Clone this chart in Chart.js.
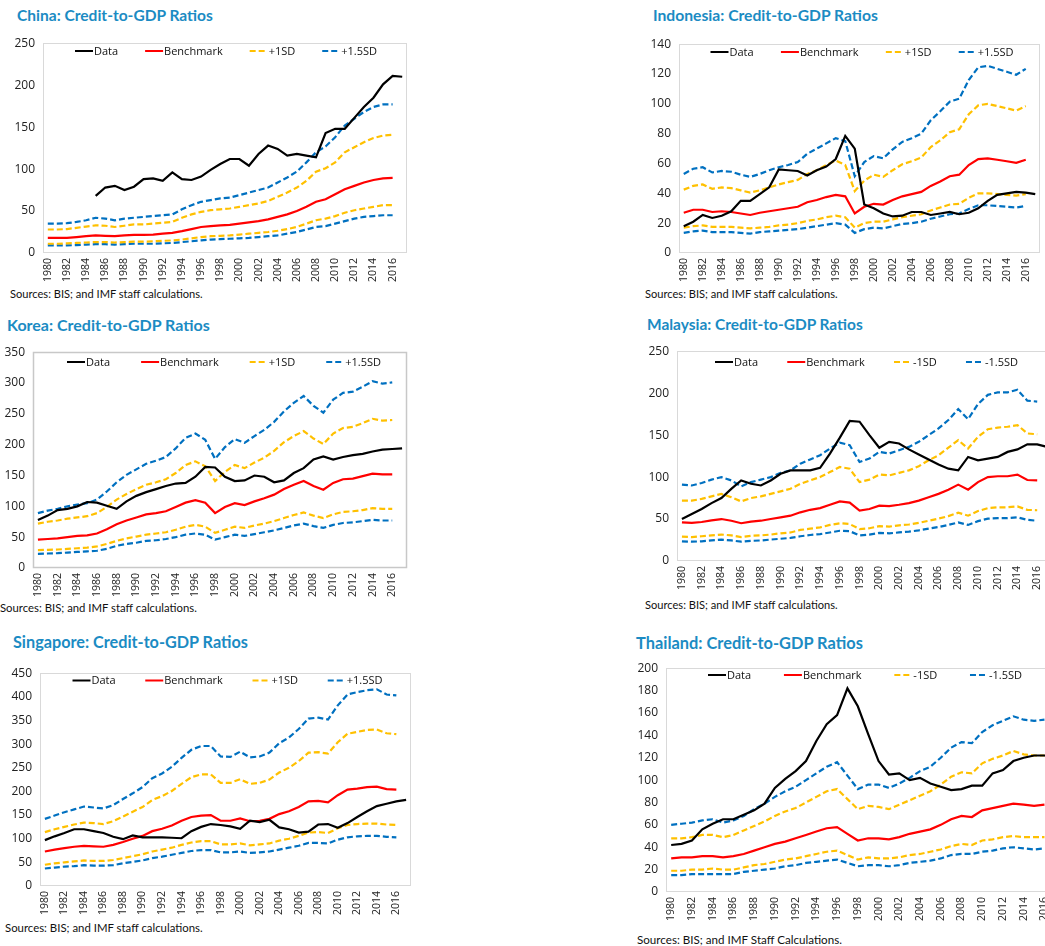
<!DOCTYPE html>
<html><head><meta charset="utf-8">
<script src="https://cdn.jsdelivr.net/npm/chart.js@4.4.0/dist/chart.umd.min.js"></script>
<style>
html,body{margin:0;padding:0;overflow:hidden;background:#fff;width:1045px;height:946px;position:relative;}
.t{position:absolute;font-family:Lato,"Open Sans",sans-serif;font-weight:bold;color:#1b8bc3;font-size:14px;white-space:nowrap;line-height:1.25;}
.s{position:absolute;font-family:Lato,"Open Sans",sans-serif;font-size:11px;color:#111;white-space:nowrap;line-height:1.25;}
canvas{position:absolute;}
</style></head><body>
<script>
const years = ['1980','1981','1982','1983','1984','1985','1986','1987','1988','1989','1990','1991','1992','1993','1994','1995','1996','1997','1998','1999','2000','2001','2002','2003','2004','2005','2006','2007','2008','2009','2010','2011','2012','2013','2014','2015','2016','2017'];

// China
const chinaData  = [null,null,null,null,null,68,78,80,75,79,88,89,86,96,88,87,91,99,106,112,112,104,118,128,124,116,118,116,114,143,148,148,161,174,185,201,211,210];
const chinaBench = [18,18,18,19,20,21,20.5,20,21,21.5,21.5,22,23,24,26,28.5,31,32,33,33.5,35,36.5,38,40,43,46,50,55,61,64,70,76,80,84,87,89,89.5];
const chinaUp1   = [28,28,28.5,30,31.5,33,32.5,31,32.5,34,34,35,36,37,42,46,49,51,52,53,55,57,59,62,67,72,78,86,97,101,108,120,126,132,137,140,141];
const chinaUp15  = [35,35,35.5,37,39,42,41,39,41,42,43,44,45,46,52,57,61,63,65,66,69,72,75,78,84,90,97,108,120,127,138,152,160,168,174,177,177];
const chinaLo1   = [11,11,11.5,12,12.5,13,13,12.5,13,13.5,13.5,14,14.5,15,16,17.5,19,20,20.5,21,22,23,24,25,26.5,28.5,31,35,39,41,44,48,51,53,55,57,57];
const chinaLo15  = [9,9,9,9.5,10,10.5,10.5,10,10.5,11,11,11,11.5,12,13,14,15,16,16.5,17,17.5,18,19,20,21,23,25,28,31,32,35,38,41,43,44,45,45];

// Indonesia
const indoData  = [18,21,25.5,23.5,25,28,35,35,39.5,44,56,55.5,55,52,55.5,58,63,78.5,70,32.5,30,26.5,24.5,25,27.5,27.5,25.5,26.5,27.5,26,27,30,35,39,40,41,40.5,39.5];
const indoBench = [27,29,29,27.5,28,27.5,26.5,25.5,27,28,29,30,31,34,35.5,37.5,39,38,26.5,31,33,32.5,35.5,38,39.5,41,45,48,51.5,52.5,59,63,63.5,62.5,61.5,60.5,62.5];
const indoUp1   = [42.5,45,46,43,44,43.5,42,40.5,42,44,46,47.5,49,53,55.5,59,62,59,41.5,48.5,52.5,51,55.5,59.5,61.5,64,71,75.5,81,83,93,99,100,98.5,97,95.5,98.5];
const indoUp15  = [53,56.5,57.5,54,55,54.5,52.5,51,53,55.5,57.5,59,61,66.5,70,73.5,77,75,51.5,61,65,63.5,69.5,74.5,77,80,89,95,101.5,103.5,116,124.5,125.5,123.5,121.5,119.5,123.5];
const indoLo1   = [17,18,18.5,17.5,17.5,17.5,17,16.5,17,17.5,18.5,19,20,21.5,22.5,24,25,24,17,20,21,21,22.5,24,25,26,28.5,30.5,32.5,33,37,40,40,39.5,39,38.5,39.5];
const indoLo15  = [13.5,14.5,15,14,14,14,13.5,13,14,14.5,15,15.5,16,17,18,19,20,19,13.5,16,17,16.5,18,19.5,20,21,23,24.5,26,26.5,29.5,32,32,31.5,31,30.5,31.5];

// Korea
const koreaData  = [78,85,94,96,100,107,106,101,96,108,117,123,128,133,137,138,148,164,163,148,141,142,150,148,139,142,154,162,176,181,176,180,183,185,189,192,193,194];
const koreaBench = [46,47,48,50,52,53,56,63,71,77,82,87,89,92,99,106,110,106,89,99,105,102,108,113,119,128,135,141,133,127,138,144,145,149,153,152,152];
const koreaUp1   = [72,75,77,80,82,84,89,99,111,120,128,135,139,144,154,167,173,165,141,156,167,162,171,179,190,204,214,222,210,201,218,227,229,235,242,239,240];
const koreaUp15  = [89,93,96,100,103,105,111,124,139,151,160,169,174,180,194,211,218,208,177,196,209,203,214,224,237,254,268,279,263,252,273,284,286,294,303,299,301];
const koreaLo1   = [29,29.5,30,31,32,33,35,39,44,48,51,54,56,58,62,67,70,67,57,62,67,65,69,72,76,81,86,90,85,81,87,91,92,94,97,96,96];
const koreaLo15  = [23,23.5,24,25,26,27,28,31,36,39,41,44,45,47,50,54,56,54,46,50,54,52,55,58,61,65,69,72,68,65,70,73,74,76,78,77,77];

// Malaysia
const malData  = [50,56,62,69,75,86,96,92,90,96,104,108,108,108,111,128,147,167,166,150,135,142,140,133,127,121,115,110,108,124,120,122,124,130,133,139,139,136];
const malBench = [46,45.5,46.5,48.5,50,48,45,47,48,50,52,54,58,61,63,67,71,69.5,60,62,66,65.5,67,69,72,76,80,85,91,85,94,100,101,101,103,96.5,96];
const malUp1   = [72,72,74,77,80,76,71,75,77,80,83,86,92,96,100,106,112,110,94,97,103,102,105,108,113,120,126,135,144,134,148,157,159,160,162,152,151];
const malUp15  = [91,90,93,97,100,96,89,94,97,100,105,108,116,121,126,134,141,138,118,122,130,128,132,136,142,150,158,168,181,169,187,198,201,201,204,191,190];
const malLo1   = [29,28.5,29.5,30.5,31.5,30.5,28.5,30,30.5,31.5,33,34,37,38.5,40,43,45,44,38,39,41.5,41,42.5,43.5,45.5,48,50.5,53.5,57.5,54,59.5,63,64,64,65,61,60.5];
const malLo15  = [23.5,23,23.5,24.5,25.5,24.5,23,24,24.5,25.5,26.5,27.5,29.5,31,32,34,36,35.5,30.5,31.5,33.5,33,34,35,36.5,38.5,40.5,43,46,43,47.5,50.5,51,51,52,49,48];

// Singapore
const sgData  = [97,105,112,120,120,116,112,104,99,107,103,103,103,102,101,116,125,131,129,126,121,138,135,140,124,120,113,115,130,131,123,133,146,158,169,174,179,182];
const sgBench = [73,77,80,83,85,84,83,87,93,100,106,116,121,128,138,146,149,150,138,138,143,137,138,142,152,158,167,179,180,177,192,204,206,209,210,205,204];
const sgUp1   = [114,120,125,130,134,133,131,137,147,157,167,182,190,201,216,230,236,236,218,218,226,216,218,225,240,250,264,282,283,280,304,322,326,330,331,323,321];
const sgUp15  = [142,149,156,162,168,166,164,171,184,196,209,228,238,252,271,288,296,296,274,273,284,272,274,282,302,314,332,354,356,352,382,405,410,414,416,405,403];
const sgLo1   = [45,48,50,52,54,53,53,55,59,63,67,73,77,81,87,92,95,95,88,88,90,86,88,90,96,100,106,113,114,112,122,129,131,132,132,130,129];
const sgLo15  = [37,39,41,42,44,43,43,44,48,51,54,59,62,66,70,74,76,76,71,71,73,70,71,73,77,81,85,91,91,90,98,103,105,106,106,104,103];

// Thailand
const thData  = [42,43,46,56,61,65,65,69,73,79,93,101,108,117,135,150,158,182,166,141,117,105,106,100,102,97,94,91,92,95,95,106,109,117,120,122,122,120];
const thBench = [30,31,31,32,32,31,32,34,37,40,43,45,48,51,54,57,58,52,46,48,48,47,49,52,54,56,60,65,68,67,73,75,77,79,78,77,78];
const thUp1   = [48,48,49,51,51,49,51,55,59,63,68,72,75,80,85,90,92,83,74,77,76,74,78,82,86,90,96,103,107,106,115,119,122,126,123,122,122];
const thUp15  = [60,61,62,64,65,62,64,68,74,79,85,90,94,100,106,112,116,104,92,96,96,93,97,102,108,112,120,129,134,133,143,149,153,157,154,153,154];
const thLo1   = [19,19,20,20,21,20,20,22,24,25,27,29,30,32,34,36,37,33,29,31,30,30,31,33,34,36,38,41,43,42,46,47,49,50,49,49,49];
const thLo15  = [15,15,16,16,16,16,16,18,19,20,21,23,24,26,27,28,29,26,23,24,24,23,24,26,27,28,30,33,34,34,36,37,39,40,39,38,39];

const seriesNamesPlus  = ['Data','Benchmark','+1SD','+1.5SD'];
const seriesNamesMinus = ['Data','Benchmark','-1SD','-1.5SD'];
const srcText  = 'Sources: BIS; and IMF staff calculations.';
const srcTextTh = 'Sources: BIS; and IMF Staff Calculations.';

const panels = [
  {title:'China: Credit-to-GDP Ratios', src:srcText, L:43,R:407,T:38,B:253, max:250, step:50, names:seriesNamesPlus,
   s:[chinaData,chinaBench,chinaUp1,chinaUp15,chinaLo1,chinaLo15], tb:[17,16,196], sb:[10,294,193], leg:[75,377,13], box:['#d9d9d9',1]},
  {title:'Indonesia: Credit-to-GDP Ratios', src:srcText, L:678.5,R:1039.5,T:39,B:253, max:140, step:20, names:seriesNamesPlus,
   s:[indoData,indoBench,indoUp1,indoUp15,indoLo1,indoLo15], tb:[653,16,225], sb:[645,294,193], leg:[710,1013,13], box:['#d9d9d9',1]},
  {title:'Korea: Credit-to-GDP Ratios', src:srcText, L:33,R:407,T:347,B:568, max:350, step:50, names:seriesNamesPlus,
   s:[koreaData,koreaBench,koreaUp1,koreaUp15,koreaLo1,koreaLo15], tb:[7,325,203], sb:[0,608,197], leg:[67,381,15], box:['#c8c8c8',1.5]},
  {title:'Malaysia: Credit-to-GDP Ratios', src:srcText, L:677,R:1052,T:346,B:561, max:250, step:50, names:seriesNamesMinus,
   s:[malData,malBench,malUp1,malUp15,malLo1,malLo15], tb:[647,325,216], sb:[645,605,193], leg:[715,1018,16], box:['#d9d9d9',1]},
  {title:'Singapore: Credit-to-GDP Ratios', src:srcText, L:39.5,R:410,T:667.5,B:885, max:450, step:50, names:seriesNamesPlus,
   s:[sgData,sgBench,sgUp1,sgUp15,sgLo1,sgLo15], tb:[13,642,235], sb:[5,928,198], leg:[72,382,12.5], box:['#d9d9d9',1]},
  {title:'Thailand: Credit-to-GDP Ratios', src:srcTextTh, L:666,R:1060,T:663,B:892, max:200, step:20, names:seriesNamesMinus,
   s:[thData,thBench,thUp1,thUp15,thLo1,thLo15], tb:[636,643,227], sb:[637,940,205], leg:[708,1022,12], box:['#d9d9d9',1]}
];

const colors = ['#000000','#ff0000','#ffc000','#0070c0','#ffc000','#0070c0'];
const dashes = [[],[],[6,3],[6,3],[6,3],[6,3]];

function placeText(text, cls, x, cy, w){
  const d = document.createElement('div');
  d.className = cls; d.textContent = text;
  document.body.appendChild(d);
  const fs = parseFloat(getComputedStyle(d).fontSize);
  const mw = d.getBoundingClientRect().width;
  d.style.fontSize = (fs * w / mw) + 'px';
  const h = d.getBoundingClientRect().height;
  d.style.left = x + 'px';
  d.style.top = (cy - h/2) + 'px';
}

const plotPlugin = {
  id: 'plotBox',
  beforeDatasetsDraw(chart, args, o){
    const {ctx, chartArea:a} = chart;
    ctx.save();
    ctx.strokeStyle = o.color; ctx.lineWidth = o.width;
    ctx.strokeRect(Math.round(a.left)+0.5, Math.round(a.top)+0.5, Math.round(a.width)-1, Math.round(a.height)-1);
    ctx.restore();
  },
  afterDatasetsDraw(chart, args, o){
    const ctx = chart.ctx;
    ctx.save();
    ctx.font = '11px "Open Sans", sans-serif';
    ctx.textBaseline = 'middle';
    const items = chart.data.datasets.filter(d => d.label);
    const sw = 18, g1 = 1;
    let sum = 0;
    items.forEach(d => { sum += sw + g1 + ctx.measureText(d.label).width; });
    const gap = (o.x1 - o.x0 - sum) / (items.length - 1);
    let x = o.x0;
    items.forEach(d => {
      ctx.strokeStyle = d.borderColor; ctx.lineWidth = 2;
      ctx.setLineDash(d.borderDash || []);
      ctx.beginPath(); ctx.moveTo(x, o.y); ctx.lineTo(x + sw, o.y); ctx.stroke();
      ctx.setLineDash([]);
      ctx.fillStyle = '#111';
      ctx.fillText(d.label, x + sw + g1, o.y + 0.5);
      x += sw + g1 + ctx.measureText(d.label).width + gap;
    });
    ctx.restore();
  }
};

const YW = 50, PT = 10, PR = 30, XH = 45;
panels.forEach(p => {
  placeText(p.title, 't', p.tb[0], p.tb[1], p.tb[2]);
  placeText(p.src, 's', p.sb[0], p.sb[1], p.sb[2]);
  const cv = document.createElement('canvas');
  const cl = p.L - YW, ct = p.T - PT;
  const w = Math.round(p.R - p.L + YW + PR), h = Math.round(p.B - p.T + PT + XH);
  cv.width = w; cv.height = h;
  cv.style.left = cl + 'px'; cv.style.top = ct + 'px';
  cv.style.width = w + 'px'; cv.style.height = h + 'px';
  document.body.appendChild(cv);
  const labels = [p.names[0], p.names[1], p.names[2], p.names[3], '', ''];
  const datasets = p.s.map((arr, i) => ({
    label: labels[i], data: arr, borderColor: colors[i], backgroundColor: colors[i],
    borderDash: dashes[i], borderWidth: 2.2, pointRadius: 0, tension: 0, fill: false, spanGaps: false
  }));
  new Chart(cv, {
    type: 'line',
    data: {labels: years, datasets},
    options: {
      responsive: false, animation: false, devicePixelRatio: 1,
      layout: {padding: {left: 0, top: PT, right: PR, bottom: 0}},
      plugins: {
        legend: {display: false}, tooltip: {enabled: false},
        plotBox: {color: p.box[0], width: p.box[1], x0: p.leg[0] - cl, x1: p.leg[1] - cl, y: PT + p.leg[2]}
      },
      scales: {
        x: {type: 'category', offset: true,
            grid: {display: false, drawTicks: false}, border: {display: false},
            ticks: {autoSkip: false, minRotation: 90, maxRotation: 90, padding: 5, color: '#222',
                    font: {family: '"Open Sans", sans-serif', size: 10.5},
                    callback: function(v, i){ return i % 2 === 0 ? this.getLabelForValue(v) : ''; }},
            afterFit: s => { s.height = XH; }},
        y: {min: 0, max: p.max,
            grid: {display: false, drawTicks: false}, border: {display: false},
            ticks: {stepSize: p.step, padding: 8, color: '#222', font: {family: '"Open Sans", sans-serif', size: 12}},
            afterFit: s => { s.width = YW; }}
      }
    },
    plugins: [plotPlugin]
  });
});
</script>
</body></html>
